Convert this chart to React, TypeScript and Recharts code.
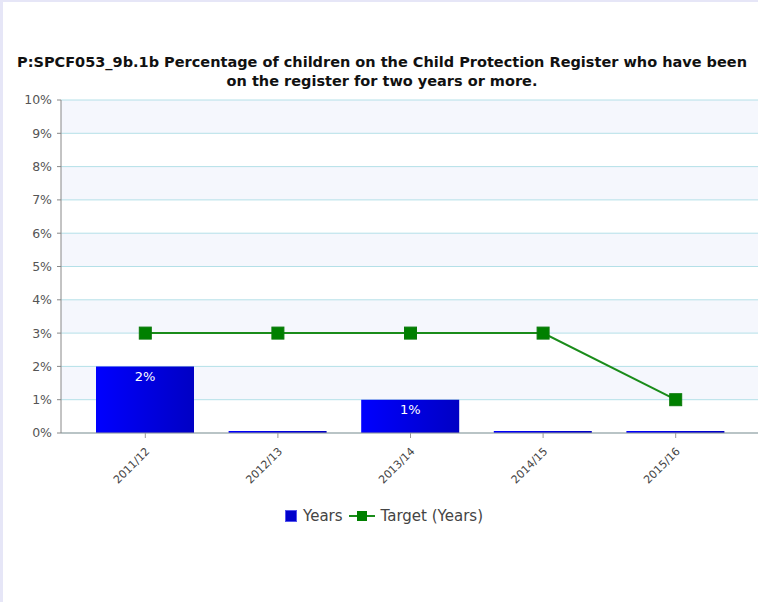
import React from "react"
import { Bar, CartesianGrid, ComposedChart, LabelList, Legend, Line, XAxis, YAxis } from "recharts"

const periods = ["2011/12", "2012/13", "2013/14", "2014/15", "2015/16"]
const yearsValues = [2, 0, 1, 0, 0]
const targetValues = [3, 3, 3, 3, 1]
const percentTicks = [0, 1, 2, 3, 4, 5, 6, 7, 8, 9, 10]

const titleLines = [
  "P:SPCF053_9b.1b Percentage of children on the Child Protection Register who have been",
  "on the register for two years or more.",
]

const FONT = "'DejaVu Sans', Verdana, sans-serif"

const chartData = periods.map((period, i) => ({
  period,
  years: yearsValues[i],
  target: targetValues[i],
}))

const SquareDot = (props: any) => {
  const { cx, cy, index } = props
  return <rect key={`dot-${index}`} x={cx - 6} y={cy - 6} width={12} height={12} fill="#008000" stroke="#0a7a0a" />
}

const PeriodTick = (props: any) => {
  const { x, y, payload } = props
  const tx = x + 5
  const ty = y + 12
  return (
    <text x={tx} y={ty} transform={`rotate(-45, ${tx}, ${ty})`} textAnchor="end" fontSize={11} fill="#444" fontFamily={FONT}>
      {payload.value}
    </text>
  )
}

const LegendContent = () => (
  <div style={{ display: "flex", justifyContent: "center", alignItems: "center", height: 20, fontFamily: FONT, fontSize: 15, color: "#444" }}>
    <svg width={12} height={12} style={{ marginRight: 6 }}>
      <rect x={0.5} y={0.5} width={11} height={11} fill="#0000cc" stroke="#5555ee" />
    </svg>
    <span style={{ marginRight: 6 }}>Years</span>
    <svg width={26} height={12} style={{ marginRight: 6 }}>
      <line x1={0} y1={6} x2={26} y2={6} stroke="#1a8c1a" strokeWidth={2} />
      <rect x={8} y={1} width={10} height={10} fill="#008000" />
    </svg>
    <span>Target (Years)</span>
  </div>
)

const App = () => {
  return (
    <div style={{ position: "absolute", left: 0, top: 0, width: 758, height: 602, overflow: "hidden", background: "#fff" }}>
      <div style={{ position: "absolute", left: 0, top: 0, width: 758, height: 2, background: "#e6e6f7" }} />
      <div style={{ position: "absolute", left: 0, top: 0, width: 3, height: 602, background: "#e6e6f7" }} />
      <div
        style={{
          position: "absolute",
          left: 0,
          top: 53,
          width: 764,
          textAlign: "center",
          fontFamily: FONT,
          fontWeight: "bold",
          fontSize: 14.5,
          lineHeight: "19px",
          color: "#111",
          whiteSpace: "nowrap",
        }}
      >
        {titleLines.map((line) => (
          <div key={line}>{line}</div>
        ))}
      </div>
      <div style={{ position: "absolute", left: 0, top: 0 }}>
        <ComposedChart width={778} height={560} data={chartData} margin={{ top: 100, right: 18, bottom: 34, left: 8 }}>
          <defs>
            <linearGradient id="barFill" x1="0" y1="0" x2="1" y2="0">
              <stop offset="0%" stopColor="#0000ff" />
              <stop offset="100%" stopColor="#0000c4" />
            </linearGradient>
          </defs>
          <CartesianGrid vertical={false} stroke="#b4e0e8" horizontalFill={["#f5f7fd", "#ffffff"]} fillOpacity={1} />
          <XAxis
            dataKey="period"
            padding={{ left: 18, right: 18 }}
            height={73}
            stroke="#999"
            tickSize={5}
            tick={<PeriodTick />}
            interval={0}
          />
          <YAxis
            domain={[0, 10]}
            ticks={percentTicks}
            width={53}
            stroke="#888"
            tickSize={4}
            tickMargin={5}
            tickFormatter={(v: number) => `${v}%`}
            tick={{ fontSize: 12.5, fill: "#555", fontFamily: FONT }}
          />
          <Legend verticalAlign="bottom" content={<LegendContent />} />
          <Bar dataKey="years" name="Years" barSize={98} fill="url(#barFill)" minPointSize={2} isAnimationActive={false}>
            <LabelList
              dataKey="years"
              position="insideTop"
              fill="#fff"
              fontSize={13}
              fontFamily={FONT}
              formatter={(v: any) => (v ? `${v}%` : "")}
            />
          </Bar>
          <Line
            dataKey="target"
            name="Target (Years)"
            stroke="#1a8c1a"
            strokeWidth={2}
            dot={SquareDot}
            activeDot={false}
            isAnimationActive={false}
          />
        </ComposedChart>
      </div>
    </div>
  )
}

export default App
